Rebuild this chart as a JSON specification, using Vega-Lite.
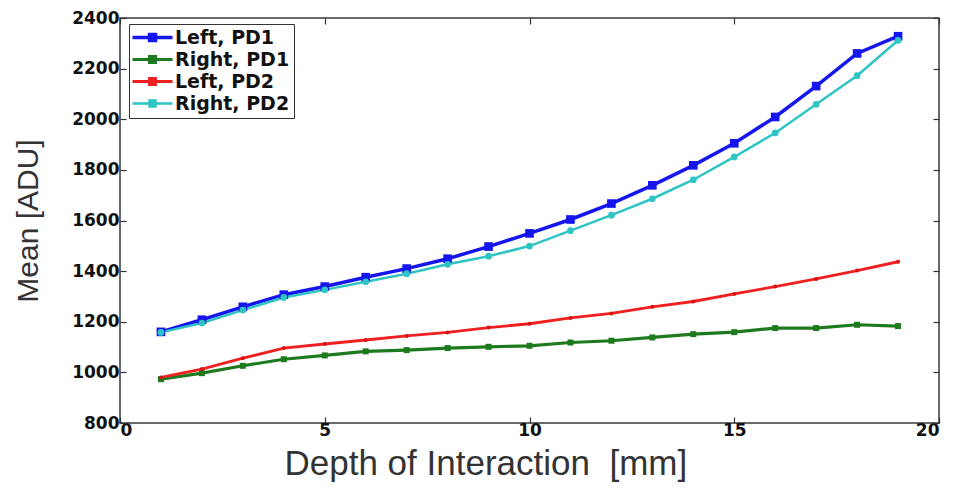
{
  "$schema": "https://vega.github.io/schema/vega-lite/v6.json",
  "width": 819,
  "height": 405,
  "autosize": {"type": "none"},
  "padding": {"left": 120, "top": 18, "right": 19, "bottom": 68},
  "background": "white",
  "config": {
    "view": {"stroke": "#3a3a3a", "strokeWidth": 1.5},
    "axis": {"grid": false, "domain": false, "tickColor": "#333", "tickSize": -6, "tickWidth": 1.2,
             "labelFont": "DejaVu Sans", "labelFontWeight": "bold", "labelFontSize": 17, "labelColor": "#111",
             "titleFont": "Liberation Sans", "titleFontWeight": "normal", "titleColor": "#333"}
  },
  "data": {"values": [
    {"x":1,"series":"Left, PD1","value":1160},{"x":2,"series":"Left, PD1","value":1208},{"x":3,"series":"Left, PD1","value":1259},{"x":4,"series":"Left, PD1","value":1307},{"x":5,"series":"Left, PD1","value":1339},{"x":6,"series":"Left, PD1","value":1376},{"x":7,"series":"Left, PD1","value":1410},{"x":8,"series":"Left, PD1","value":1449},{"x":9,"series":"Left, PD1","value":1497},{"x":10,"series":"Left, PD1","value":1549},{"x":11,"series":"Left, PD1","value":1604},{"x":12,"series":"Left, PD1","value":1667},{"x":13,"series":"Left, PD1","value":1739},{"x":14,"series":"Left, PD1","value":1818},{"x":15,"series":"Left, PD1","value":1905},{"x":16,"series":"Left, PD1","value":2009},{"x":17,"series":"Left, PD1","value":2131},{"x":18,"series":"Left, PD1","value":2260},{"x":19,"series":"Left, PD1","value":2328},
    {"x":1,"series":"Right, PD1","value":973},{"x":2,"series":"Right, PD1","value":997},{"x":3,"series":"Right, PD1","value":1026},{"x":4,"series":"Right, PD1","value":1052},{"x":5,"series":"Right, PD1","value":1067},{"x":6,"series":"Right, PD1","value":1083},{"x":7,"series":"Right, PD1","value":1088},{"x":8,"series":"Right, PD1","value":1096},{"x":9,"series":"Right, PD1","value":1101},{"x":10,"series":"Right, PD1","value":1105},{"x":11,"series":"Right, PD1","value":1118},{"x":12,"series":"Right, PD1","value":1125},{"x":13,"series":"Right, PD1","value":1138},{"x":14,"series":"Right, PD1","value":1151},{"x":15,"series":"Right, PD1","value":1159},{"x":16,"series":"Right, PD1","value":1175},{"x":17,"series":"Right, PD1","value":1175},{"x":18,"series":"Right, PD1","value":1188},{"x":19,"series":"Right, PD1","value":1183},
    {"x":1,"series":"Left, PD2","value":980},{"x":2,"series":"Left, PD2","value":1013},{"x":3,"series":"Left, PD2","value":1056},{"x":4,"series":"Left, PD2","value":1096},{"x":5,"series":"Left, PD2","value":1112},{"x":6,"series":"Left, PD2","value":1128},{"x":7,"series":"Left, PD2","value":1144},{"x":8,"series":"Left, PD2","value":1158},{"x":9,"series":"Left, PD2","value":1177},{"x":10,"series":"Left, PD2","value":1192},{"x":11,"series":"Left, PD2","value":1215},{"x":12,"series":"Left, PD2","value":1233},{"x":13,"series":"Left, PD2","value":1259},{"x":14,"series":"Left, PD2","value":1280},{"x":15,"series":"Left, PD2","value":1310},{"x":16,"series":"Left, PD2","value":1339},{"x":17,"series":"Left, PD2","value":1369},{"x":18,"series":"Left, PD2","value":1402},{"x":19,"series":"Left, PD2","value":1437},
    {"x":1,"series":"Right, PD2","value":1158},{"x":2,"series":"Right, PD2","value":1195},{"x":3,"series":"Right, PD2","value":1246},{"x":4,"series":"Right, PD2","value":1296},{"x":5,"series":"Right, PD2","value":1326},{"x":6,"series":"Right, PD2","value":1358},{"x":7,"series":"Right, PD2","value":1390},{"x":8,"series":"Right, PD2","value":1427},{"x":9,"series":"Right, PD2","value":1459},{"x":10,"series":"Right, PD2","value":1499},{"x":11,"series":"Right, PD2","value":1560},{"x":12,"series":"Right, PD2","value":1621},{"x":13,"series":"Right, PD2","value":1686},{"x":14,"series":"Right, PD2","value":1761},{"x":15,"series":"Right, PD2","value":1851},{"x":16,"series":"Right, PD2","value":1946},{"x":17,"series":"Right, PD2","value":2059},{"x":18,"series":"Right, PD2","value":2172},{"x":19,"series":"Right, PD2","value":2312}
  ]},
  "resolve": {"axis": {"x": "independent", "y": "independent"}},
  "layer": [
    {
      "mark": {"type": "line"},
      "encoding": {
        "x": {"field": "x", "type": "quantitative", "scale": {"domain": [0, 20], "nice": false},
              "axis": {"values": [0, 5, 10, 15, 20], "format": "d", "labelPadding": 5, "title": "Depth of Interaction\u00a0\u00a0[mm]", "titleFontSize": 35, "titlePadding": 8, "titleAnchor": "start", "titleX": 164}},
        "y": {"field": "value", "type": "quantitative", "scale": {"domain": [800, 2400], "nice": false, "zero": false},
              "axis": {"values": [800, 1000, 1200, 1400, 1600, 1800, 2000, 2200, 2400], "format": "d", "labelPadding": 7, "title": "Mean [ADU]", "titleFontSize": 30, "titlePadding": 28}},
        "color": {"field": "series", "type": "nominal",
                  "scale": {"domain": ["Left, PD1", "Right, PD1", "Left, PD2", "Right, PD2"], "range": ["#1515f0", "#1e7a1e", "#f02020", "#2ec4c4"]},
                  "legend": {"title": null, "orient": "none", "legendX": 9, "legendY": 6,
                             "strokeColor": "#333", "fillColor": "white", "padding": 4, "rowPadding": 2,
                             "symbolType": "M-4,0H4M-0.6,-0.6H0.6V0.6H-0.6Z", "symbolSize": 100, "symbolStrokeWidth": 2, "symbolOffset": 10,
                             "labelFont": "DejaVu Sans", "labelFontWeight": "bold", "labelFontSize": 19, "labelColor": "#111", "labelOffset": 13,
                             "encode": {"symbols": {"update": {
                               "stroke": {"scale": "color", "field": "value"},
                               "fill": {"scale": "color", "field": "value"},
                               "strokeWidth": {"value": 2}}}}}},
        "strokeWidth": {"field": "series", "type": "nominal",
                        "scale": {"domain": ["Left, PD1", "Right, PD1", "Left, PD2", "Right, PD2"], "range": [3.5, 2.5, 2.5, 3]}, "legend": null}
      }
    },
    {
      "transform": [{"filter": "datum.series === 'Left, PD1'"}],
      "mark": {"type": "point", "filled": true, "opacity": 1, "shape": "square", "size": 75, "color": "#1515f0"},
      "encoding": {
        "x": {"field": "x", "type": "quantitative", "axis": {"orient": "top", "values": [0, 5, 10, 15, 20], "labels": false, "title": null}},
        "y": {"field": "value", "type": "quantitative", "axis": {"orient": "right", "values": [800, 1000, 1200, 1400, 1600, 1800, 2000, 2200, 2400], "labels": false, "title": null}}
      }
    },
    {
      "transform": [{"filter": "datum.series === 'Right, PD1'"}],
      "mark": {"type": "point", "filled": true, "opacity": 1, "shape": "square", "size": 36, "color": "#1e7a1e"},
      "encoding": {
        "x": {"field": "x", "type": "quantitative", "axis": null},
        "y": {"field": "value", "type": "quantitative", "axis": null}
      }
    },
    {
      "transform": [{"filter": "datum.series === 'Left, PD2'"}],
      "mark": {"type": "point", "filled": true, "opacity": 1, "shape": "circle", "size": 16, "color": "#d81010"},
      "encoding": {
        "x": {"field": "x", "type": "quantitative", "axis": null},
        "y": {"field": "value", "type": "quantitative", "axis": null}
      }
    },
    {
      "transform": [{"filter": "datum.series === 'Right, PD2'"}],
      "mark": {"type": "point", "filled": true, "opacity": 1, "shape": "circle", "size": 45, "color": "#2ec4c4"},
      "encoding": {
        "x": {"field": "x", "type": "quantitative", "axis": null},
        "y": {"field": "value", "type": "quantitative", "axis": null}
      }
    }
  ]
}
